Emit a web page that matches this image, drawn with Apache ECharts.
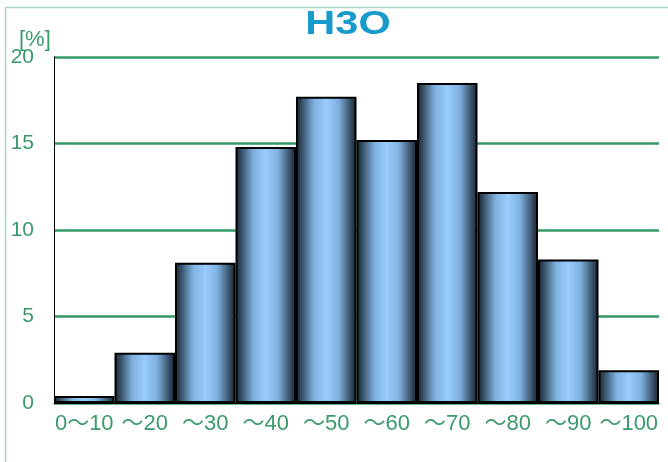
<!DOCTYPE html>
<html><head><meta charset="utf-8">
<script src="https://cdn.jsdelivr.net/npm/echarts@6/dist/echarts.min.js"></script>
<style>html,body{margin:0;padding:0;background:#fff}#c{width:668px;height:462px}</style>
</head><body><div id="c"></div>
<script>
const titleText = 'H3O';
const categories = ['0～10','～20','～30','～40','～50','～60','～70','～80','～90','～100'];
const values = [0.4, 2.9, 8.1, 14.8, 17.7, 15.2, 18.5, 12.2, 8.3, 1.9];
const yTicks = [0, 5, 10, 15, 20];
const unitLabel = '[%]';

const green = '#3a9a6c';
const chart = echarts.init(document.getElementById('c'));
chart.setOption({
  animation: false,
  backgroundColor: '#fff',
  graphic: [
    {type:'rect', shape:{x:5.5,y:7.5,width:700,height:500}, style:{fill:'none',stroke:'#a9d9c0',lineWidth:1.5}, z:0},
    {type:'text', x:19, y:29, style:{text:unitLabel, fill:green, font:'22px "Liberation Sans", Arial, sans-serif'}, z:10},
    {type:'text', x:348, y:25, scaleX:1.22, originX:0, originY:0,
     style:{text:titleText, fill:'#169bcc', font:'bold 34px "Liberation Sans", Arial, sans-serif', align:'center', verticalAlign:'middle'}, z:10}
  ],
  grid: {left:54, right:9, top:57, bottom:59},
  xAxis: {
    type:'category', data: categories,
    axisLine:{show:true, lineStyle:{color:'#000', width:1}},
    axisTick:{show:false},
    axisLabel:{color:green, fontSize:22, margin:10, interval:0, fontFamily:'"Liberation Sans", "Noto Sans CJK JP", sans-serif'}
  },
  yAxis: {
    type:'value', min:yTicks[0], max:yTicks[yTicks.length-1], interval:5,
    axisLine:{show:true, lineStyle:{color:'#000', width:1}},
    axisTick:{show:false},
    splitLine:{show:true, lineStyle:{color:'#339966', width:2.5}},
    axisLabel:{color:green, fontSize:21, margin:20, fontFamily:'"Liberation Sans", Arial, sans-serif'}
  },
  series: [{
    type:'bar', data: values, barCategoryGap:'0%',
    itemStyle:{
      borderColor:'#000', borderWidth:2,
      color: new echarts.graphic.LinearGradient(0,0,1,0,[
        {offset:0, color:'#15202c'},
        {offset:0.3, color:'#7fb2e0'},
        {offset:0.5, color:'#99ccff'},
        {offset:0.7, color:'#7fb2e0'},
        {offset:1, color:'#15202c'}
      ])
    }
  }]
});
</script></body></html>
